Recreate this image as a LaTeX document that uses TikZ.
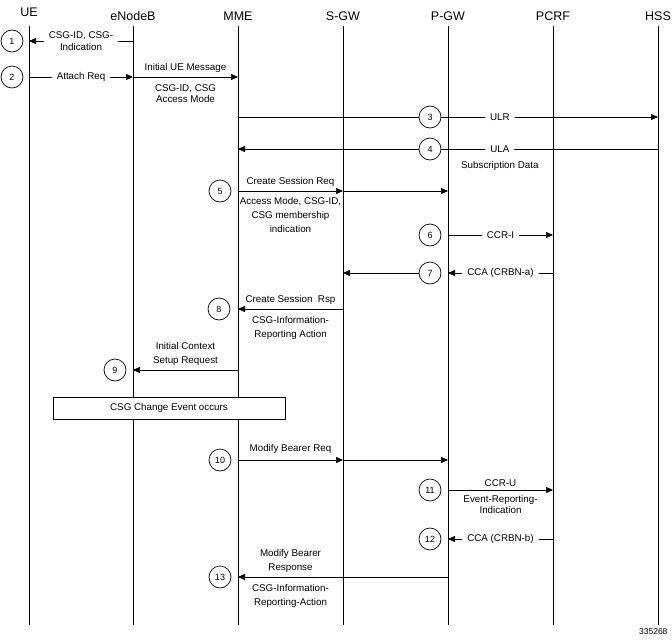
\documentclass[tikz,border=0pt]{standalone}
\usepackage{fontspec}
\setmainfont{Liberation Sans}
\usepackage{tikz}
\usetikzlibrary{arrows.meta}
\tikzset{numnode/.style={draw,circle,fill=white,line width=0.7pt,minimum size=22pt,inner sep=0pt,font=\fontsize{9}{11}\selectfont}}
\tikzset{headnode/.style={font=\fontsize{12.5}{14}\selectfont,inner sep=1pt}}
\tikzset{msglbl/.style={font=\fontsize{9.8}{14}\selectfont,align=center,inner sep=2pt}}
\tikzset{cutlbl/.style={msglbl,fill=white,inner xsep=5pt,inner ysep=1pt}}
\tikzset{lblabove/.style={msglbl,above,inner ysep=4.5pt},lblbelow/.style={msglbl,below,inner ysep=7pt}}
\tikzset{tight/.style={font=\fontsize{9.8}{11.5}\selectfont}}
\tikzset{life/.style={line width=0.7pt},msg/.style={line width=0.7pt,->}}

\begin{document}
\begin{tikzpicture}[x=1pt,y=-1pt,>={Triangle[length=7pt,width=6pt]}]
    \useasboundingbox (0,0) rectangle (672,640);
    % entities and lifelines
    \foreach \name/\txt/\x/\y in {ue/UE/29/12,enb/eNodeB/133/16,mme/MME/238/16,sgw/S-GW/343/16,pgw/P-GW/448/16,pcrf/PCRF/553/16,hss/HSS/658/16} {
      \node[headnode] (\name-lbl) at (\x,\y) {\txt};
      \coordinate (\name-top) at (\x,26);
      \coordinate (\name) at (\x,625);
      \draw[life] (\name-top) -- (\name);
    }

    % step numbers
    \foreach \idx/\x/\y in {1/12/41,2/12/77,3/430/117,4/430/149,5/220/191,6/430/235,7/430/273,8/219/309,9/115/370,10/220/460,11/430/490,12/430/539,13/220/577} {
      \node[numnode] (c\idx) at (\x,\y) {\idx};
    }

    \draw[msg] (enb |- c1) -- node[cutlbl,tight] {CSG-ID, CSG-\\Indication} (ue |- c1);
    \draw[msg] (ue |- c2) -- node[cutlbl] {Attach Req} (enb |- c2);
    \draw[msg] (enb |- c2) -- node[lblabove] {Initial UE Message} node[lblbelow,tight] {CSG-ID, CSG\\Access Mode} (mme |- c2);

    \draw[life] (mme |- c3) -- (c3);
    \draw[msg] (c3) -- node[cutlbl,pos=0.27] {ULR} (hss |- c3);
    \draw[life] (hss |- c4) -- node[cutlbl,pos=0.73] {ULA} node[lblbelow,pos=0.73,inner ysep=12pt] {Subscription Data} (c4);
    \draw[msg] (c4) -- (mme |- c4);

    \draw[msg] (mme |- c5) -- node[lblabove] {Create Session Req} node[lblbelow,inner ysep=6pt] {Access Mode, CSG-ID,\\CSG membership\\indication} (sgw |- c5);
    \draw[msg] (sgw |- c5) -- (pgw |- c5);
    \draw[msg] (pgw |- c6) -- node[cutlbl] {CCR-I} (pcrf |- c6);
    \draw[msg] (pcrf |- c7) -- node[cutlbl] {CCA (CRBN-a)} (pgw |- c7);
    \draw[msg] (c7) -- (sgw |- c7);

    \draw[msg] (sgw |- c8) -- node[lblabove] {Create Session\ \ Rsp} node[lblbelow] {CSG-Information-\\Reporting Action} (mme |- c8);
    \draw[msg] (mme |- c9) -- node[lblabove] {Initial Context\\Setup Request} (enb |- c9);

    \node[draw,fill=white,line width=0.7pt,minimum width=232pt,minimum height=22pt,font=\fontsize{9.8}{11}\selectfont] (chg) at (169,408) {CSG Change Event occurs};

    \draw[msg] (mme |- c10) -- node[lblabove,inner ysep=6.5pt] {Modify Bearer Req} (sgw |- c10);
    \draw[msg] (sgw |- c10) -- (pgw |- c10);
    \draw[msg] (pgw |- c11) -- node[lblabove,inner ysep=3pt] {CCR-U} node[lblbelow,tight,inner ysep=5pt] {Event-Reporting-\\Indication} (pcrf |- c11);
    \draw[msg] (pcrf |- c12) -- node[cutlbl] {CCA (CRBN-b)} (pgw |- c12);
    \draw[msg] (pgw |- c13) -- node[lblabove,pos=0.75] {Modify Bearer\\Response} node[lblbelow,pos=0.75] {CSG-Information-\\Reporting-Action} (mme |- c13);

    \node[font=\fontsize{8.5}{9}\selectfont,anchor=east] (figid) at (671,632) {335268};
\end{tikzpicture}
\end{document}
